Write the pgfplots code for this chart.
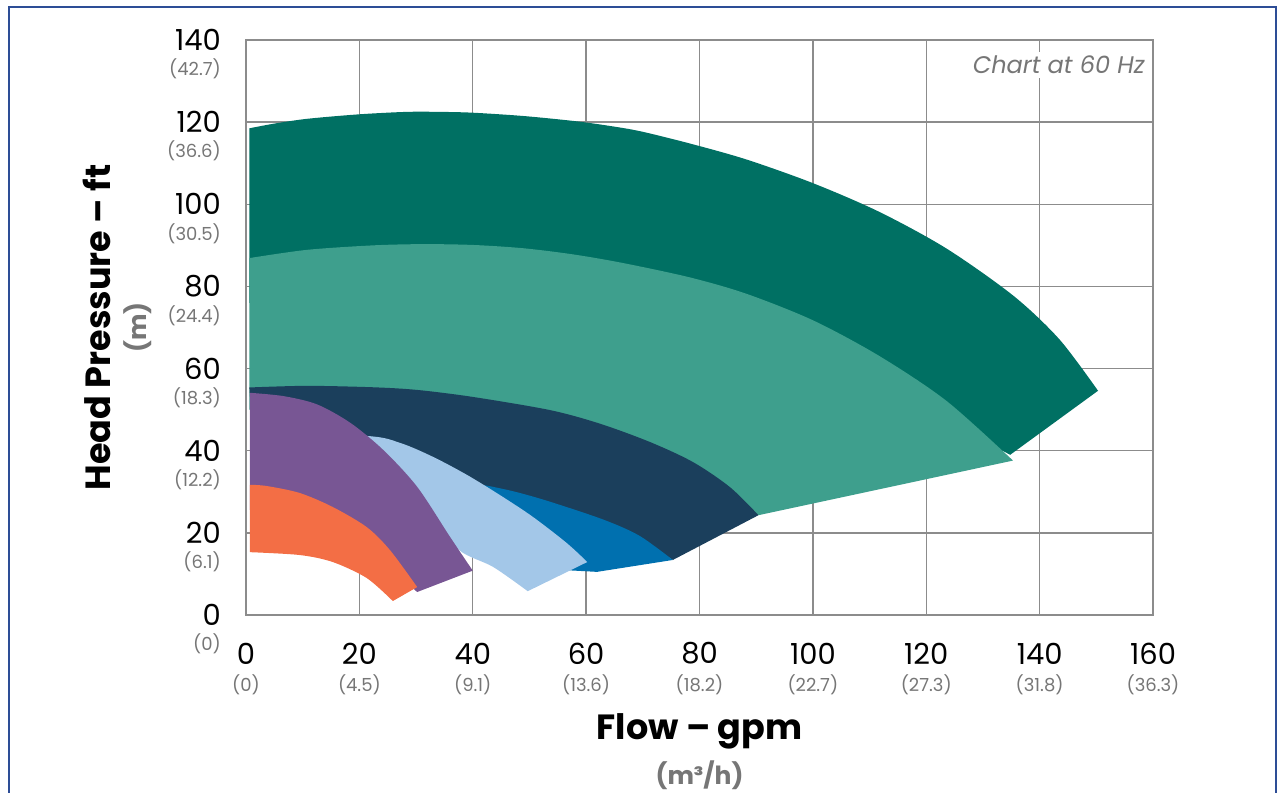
\documentclass[border=0pt]{standalone}
\usepackage{fontspec}
\setmainfont{Poppins}
\usepackage{pgfplots}
\pgfplotsset{compat=1.18}
\usepgfplotslibrary{fillbetween}

\definecolor{cDT}{RGB}{0,112,99}
\definecolor{cMT}{RGB}{62,159,141}
\definecolor{cNV}{RGB}{27,63,92}
\definecolor{cBL}{RGB}{0,112,175}
\definecolor{cLB}{RGB}{163,199,232}
\definecolor{cPU}{RGB}{120,86,148}
\definecolor{cOR}{RGB}{243,110,69}
\definecolor{gridgray}{RGB}{140,140,140}
\definecolor{subgray}{RGB}{118,118,118}
\definecolor{frameblue}{RGB}{45,77,150}

\newcommand{\numfont}{\fontsize{29}{31}\selectfont}
\newcommand{\sub}[1]{{\fontsize{18}{20}\selectfont\color{subgray}#1}}

\begin{document}
\begin{tikzpicture}
\begin{axis}[
  at={(246pt,-615pt)}, anchor=south west,
  scale only axis, width=907pt, height=575pt,
  xmin=0, xmax=160, ymin=0, ymax=140,
  xtick={0,20,...,160}, ytick={0,20,...,140},
  xticklabels={0,20,40,60,80,100,120,140,160},
  yticklabels={0,20,40,60,80,100,120,140},
  major tick length=0pt,
  grid=major,
  major grid style={draw=gridgray, line width=1.3pt},
  axis line style={draw=gridgray, line width=1.3pt},
  x tick label style={font=\numfont, anchor=center, inner sep=0pt, yshift=-38.5pt},
  y tick label style={font=\numfont, anchor=east, inner sep=0pt, xshift=-25pt},
  extra x ticks={0,20,...,160},
  extra x tick labels={\sub{(0)},\sub{(4.5)},\sub{(9.1)},\sub{(13.6)},\sub{(18.2)},\sub{(22.7)},\sub{(27.3)},\sub{(31.8)},\sub{(36.3)}},
  extra x tick style={grid=none, tick label style={yshift=-31pt}},
  extra y ticks={0,20,...,140},
  extra y tick labels={\sub{(0)},\sub{(6.1)},\sub{(12.2)},\sub{(18.3)},\sub{(24.4)},\sub{(30.5)},\sub{(36.6)},\sub{(42.7)}},
  extra y tick style={grid=none, tick label style={yshift=-29pt}},
  xlabel={Flow – gpm},
  xlabel style={font=\fontsize{35}{37}\selectfont\bfseries, at={(axis description cs:0.5,-0.2163)}, anchor=base},
  ylabel={Head Pressure – ft},
  ylabel style={font=\fontsize{35}{37}\selectfont\bfseries, at={(axis description cs:-0.1643,0.5)}, anchor=center},
  clip=false,
]
% dark teal
\addplot[name path=DTu, draw=none, smooth] coordinates {
  (0.6,118.5) (4.8,119.6) (10.7,120.8) (19.9,121.9) (28.3,122.5) (34.2,122.5)
  (40.0,122.3) (48.9,121.5) (57.7,120.3) (63.6,119.2) (69.5,117.8) (78.3,114.8)
  (88.3,110.9) (100.1,105.1) (111.8,98.1) (123.6,89.2) (135.4,77.7) (143.5,67.1)
  (150.3,54.6)};
\addplot[name path=DTl, draw=none] coordinates {
  (0.6,76) (60,72) (100,62) (120,50) (134.8,39.0)};
\addplot[cDT] fill between[of=DTu and DTl];
% mid teal
\addplot[name path=MTu, draw=none, smooth] coordinates {
  (0.6,86.9) (10.7,88.9) (22.4,90.0) (31.2,90.3) (40.0,90.1) (48.9,89.3)
  (57.7,87.8) (66.5,85.7) (78.3,82.2) (88.3,78.2) (100.1,71.7) (111.8,63.0)
  (123.6,52.1) (135.3,37.6)};
\addplot[name path=MTl, draw=none] coordinates {
  (0.6,50) (60,36) (75,30) (90.4,24.3)};
\addplot[cMT] fill between[of=MTu and MTl];
% navy
\addplot[name path=NVu, draw=none, smooth] coordinates {
  (0.6,55.4) (10.7,55.8) (22.4,55.45) (30.2,54.8) (40.0,53.1) (53.6,49.9)
  (62.4,46.6) (71.3,42.1) (78.9,37.2) (85.4,31.1) (90.4,24.3)};
\addplot[name path=NVl, draw=none, smooth] coordinates {
  (1.2,42.6) (21.3,42.6) (36.0,35.3) (43.6,30.4) (47.8,29.1) (53.6,26.8)
  (63.1,22.4) (69.4,18.5) (75.3,13.4)};
\addplot[cNV] fill between[of=NVu and NVl];
% blue
\addplot[name path=BLu, draw=none, smooth] coordinates {
  (42.0,31.6) (43.6,31.2) (47.8,29.9) (53.6,27.6) (63.1,23.2) (69.4,19.3) (75.3,13.4)};
\addplot[name path=BLl, draw=none] coordinates {
  (41.0,31.0) (55.4,11.0) (61.9,10.5)};
\addplot[cBL] fill between[of=BLu and BLl];
% light blue
\addplot[name path=LBu, draw=none, smooth] coordinates {
  (1.2,44.5) (21.3,43.6) (27.2,41.9) (33.0,38.5) (39.0,34.1) (44.8,29.2)
  (50.6,23.9) (56.6,17.5) (60.2,12.9)};
\addplot[name path=LBl, draw=none, smooth] coordinates {
  (1.2,35.3) (27.2,31.4) (32.5,24.6) (37.6,15.8) (43.6,11.7) (49.7,5.8)};
\addplot[cLB] fill between[of=LBu and LBl];
% purple
\addplot[name path=PUu, draw=none, smooth] coordinates {
  (0.7,54.1) (6.6,53.3) (12.5,51.3) (18.4,46.8) (24.2,40.2) (30.2,31.2)
  (36.0,19.0) (40.0,10.8)};
\addplot[name path=PUl, draw=none, smooth] coordinates {
  (0.7,25.6) (15.3,20.7) (25.4,11.0) (30.2,5.6)};
\addplot[cPU] fill between[of=PUu and PUl];
% orange
\addplot[name path=ORu, draw=none, smooth] coordinates {
  (0.7,31.7) (3.7,31.4) (9.5,29.7) (15.3,26.3) (21.3,21.4) (25.4,15.8) (30.2,6.8)};
\addplot[name path=ORl, draw=none, smooth] coordinates {
  (0.7,15.3) (9.5,14.6) (15.3,12.9) (21.3,9.0) (25.9,3.4)};
\addplot[cOR] fill between[of=ORu and ORl];

\node[font=\fontsize{25}{27}\selectfont\bfseries, text=subgray, anchor=center]
  at (axis description cs:0.5,-0.2795) {(m³/h)};
\node[font=\fontsize{25}{27}\selectfont\bfseries, text=subgray, anchor=center, rotate=90]
  at (axis description cs:-0.1191,0.5) {(m)};
\node[font=\fontsize{24}{26}\selectfont\itshape, text=subgray, fill=white, anchor=east, inner sep=4pt]
  at (axis description cs:0.9956,0.9565) {Chart at 60 Hz};
\end{axis}
\draw[frameblue, line width=2pt] (9pt,-793pt) -- (9pt,-6.5pt) -- (1276pt,-6.5pt) -- (1276pt,-793pt);
\pgfresetboundingbox
\path[use as bounding box] (0pt,0pt) rectangle (1278pt,-793pt);
\end{tikzpicture}
\end{document}
